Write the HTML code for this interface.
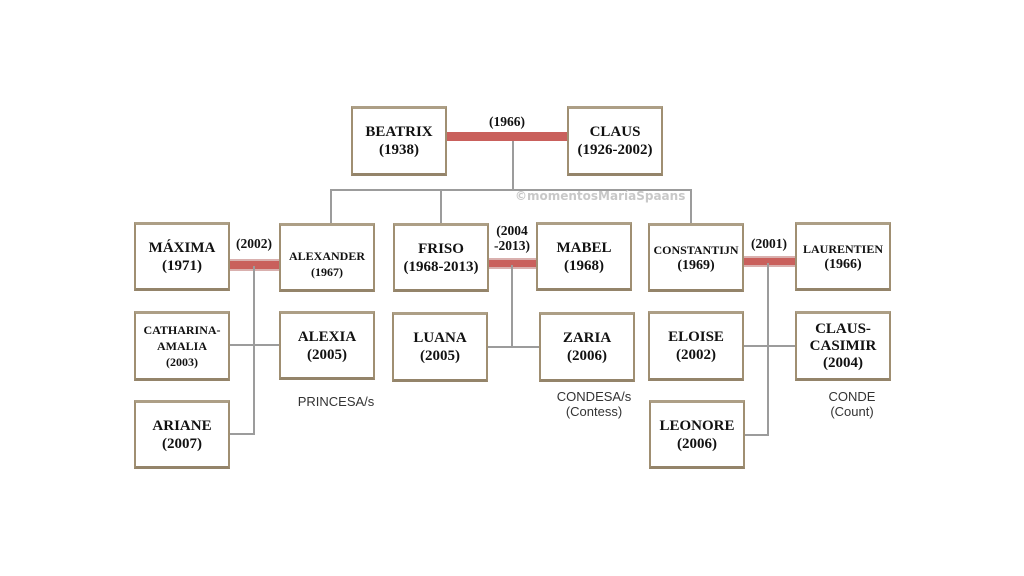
<!DOCTYPE html>
<html><head><meta charset="utf-8"><style>
body{margin:0;width:1024px;height:576px;background:#fff;position:relative;overflow:hidden;font-family:"Liberation Serif",serif}
.b{position:absolute;box-sizing:border-box;border:2px solid #a08f72;border-top:3px solid #ad9f86;border-bottom:3px solid #94846a;background:#fff;display:flex;flex-direction:column;align-items:center;justify-content:center;font-weight:bold;font-size:15px;line-height:18px;text-align:center;color:#111}
.s{font-size:12px;line-height:16px}
.l{position:absolute;background:#9c9c9c}
.r{position:absolute;background:#c9605c}
.t{position:absolute;font-weight:bold;font-size:13.5px;line-height:15px;text-align:center;color:#111}
.c{position:absolute;font-family:"Liberation Sans",sans-serif;font-size:13px;line-height:15px;text-align:center;color:#333}
</style></head><body>
<div class="r" style="left:446px;top:132px;width:121px;height:9px"></div>
<div class="l" style="left:512px;top:141px;width:2px;height:50px"></div>
<div class="l" style="left:330px;top:189px;width:362px;height:2px"></div>
<div class="l" style="left:330px;top:189px;width:2px;height:34px"></div>
<div class="l" style="left:440px;top:189px;width:2px;height:34px"></div>
<div class="l" style="left:690px;top:189px;width:2px;height:34px"></div>

<div class="r" style="left:229px;top:259px;width:50px;height:8px;border-top:2px solid #d9b0ae;border-bottom:2px solid #d9b0ae"></div>
<div class="l" style="left:253px;top:266px;width:2px;height:169px"></div>
<div class="l" style="left:229px;top:344px;width:50px;height:2px"></div>
<div class="l" style="left:229px;top:433px;width:25px;height:2px"></div>

<div class="r" style="left:488px;top:258px;width:48px;height:7px;border-top:2px solid #d9b0ae;border-bottom:2px solid #d9b0ae"></div>
<div class="l" style="left:511px;top:265px;width:2px;height:83px"></div>
<div class="l" style="left:488px;top:346px;width:51px;height:2px"></div>

<div class="r" style="left:743px;top:256px;width:52px;height:7px;border-top:2px solid #d9b0ae;border-bottom:2px solid #d9b0ae"></div>
<div class="l" style="left:767px;top:263px;width:2px;height:173px"></div>
<div class="l" style="left:743px;top:345px;width:52px;height:2px"></div>
<div class="l" style="left:744px;top:434px;width:24px;height:2px"></div>

<div style="position:absolute;left:515px;top:189px;font-family:'DejaVu Sans',sans-serif;font-weight:bold;font-size:12px;color:#c8c8c8">©momentosMaríaSpaans</div>

<div class="b" style="left:351px;top:106px;width:96px;height:70px">BEATRIX<br>(1938)</div>
<div class="b" style="left:567px;top:106px;width:96px;height:70px">CLAUS<br>(1926-2002)</div>

<div class="b" style="left:134px;top:222px;width:96px;height:69px">MÁXIMA<br>(1971)</div>
<div class="b s" style="left:279px;top:223px;width:96px;height:69px;padding-top:12px">ALEXANDER<br>(1967)</div>
<div class="b" style="left:393px;top:223px;width:96px;height:69px">FRISO<br>(1968-2013)</div>
<div class="b" style="left:536px;top:222px;width:96px;height:69px">MABEL<br>(1968)</div>
<div class="b s" style="left:648px;top:223px;width:96px;height:69px">CONSTANTIJN<br><span style="font-size:14px">(1969)</span></div>
<div class="b s" style="left:795px;top:222px;width:96px;height:69px">LAURENTIEN<br><span style="font-size:14px">(1966)</span></div>

<div class="b s" style="left:134px;top:311px;width:96px;height:70px">CATHARINA-<br>AMALIA<br>(2003)</div>
<div class="b" style="left:279px;top:311px;width:96px;height:69px">ALEXIA<br>(2005)</div>
<div class="b" style="left:392px;top:312px;width:96px;height:70px">LUANA<br>(2005)</div>
<div class="b" style="left:539px;top:312px;width:96px;height:70px">ZARIA<br>(2006)</div>
<div class="b" style="left:648px;top:311px;width:96px;height:70px">ELOISE<br>(2002)</div>
<div class="b" style="left:795px;top:311px;width:96px;height:70px;line-height:17px">CLAUS-<br>CASIMIR<br>(2004)</div>

<div class="b" style="left:134px;top:400px;width:96px;height:69px">ARIANE<br>(2007)</div>
<div class="b" style="left:649px;top:400px;width:96px;height:69px">LEONORE<br>(2006)</div>

<div class="t" style="left:482px;top:114px;width:50px">(1966)</div>
<div class="t" style="left:229px;top:236px;width:50px">(2002)</div>
<div class="t" style="left:488px;top:223px;width:48px">(2004<br>-2013)</div>
<div class="t" style="left:743px;top:236px;width:52px">(2001)</div>
<div class="c" style="left:276px;top:394px;width:120px">PRINCESA/s</div>
<div class="c" style="left:534px;top:389px;width:120px">CONDESA/s<br>(Contess)</div>
<div class="c" style="left:792px;top:389px;width:120px">CONDE<br>(Count)</div>
</body></html>
